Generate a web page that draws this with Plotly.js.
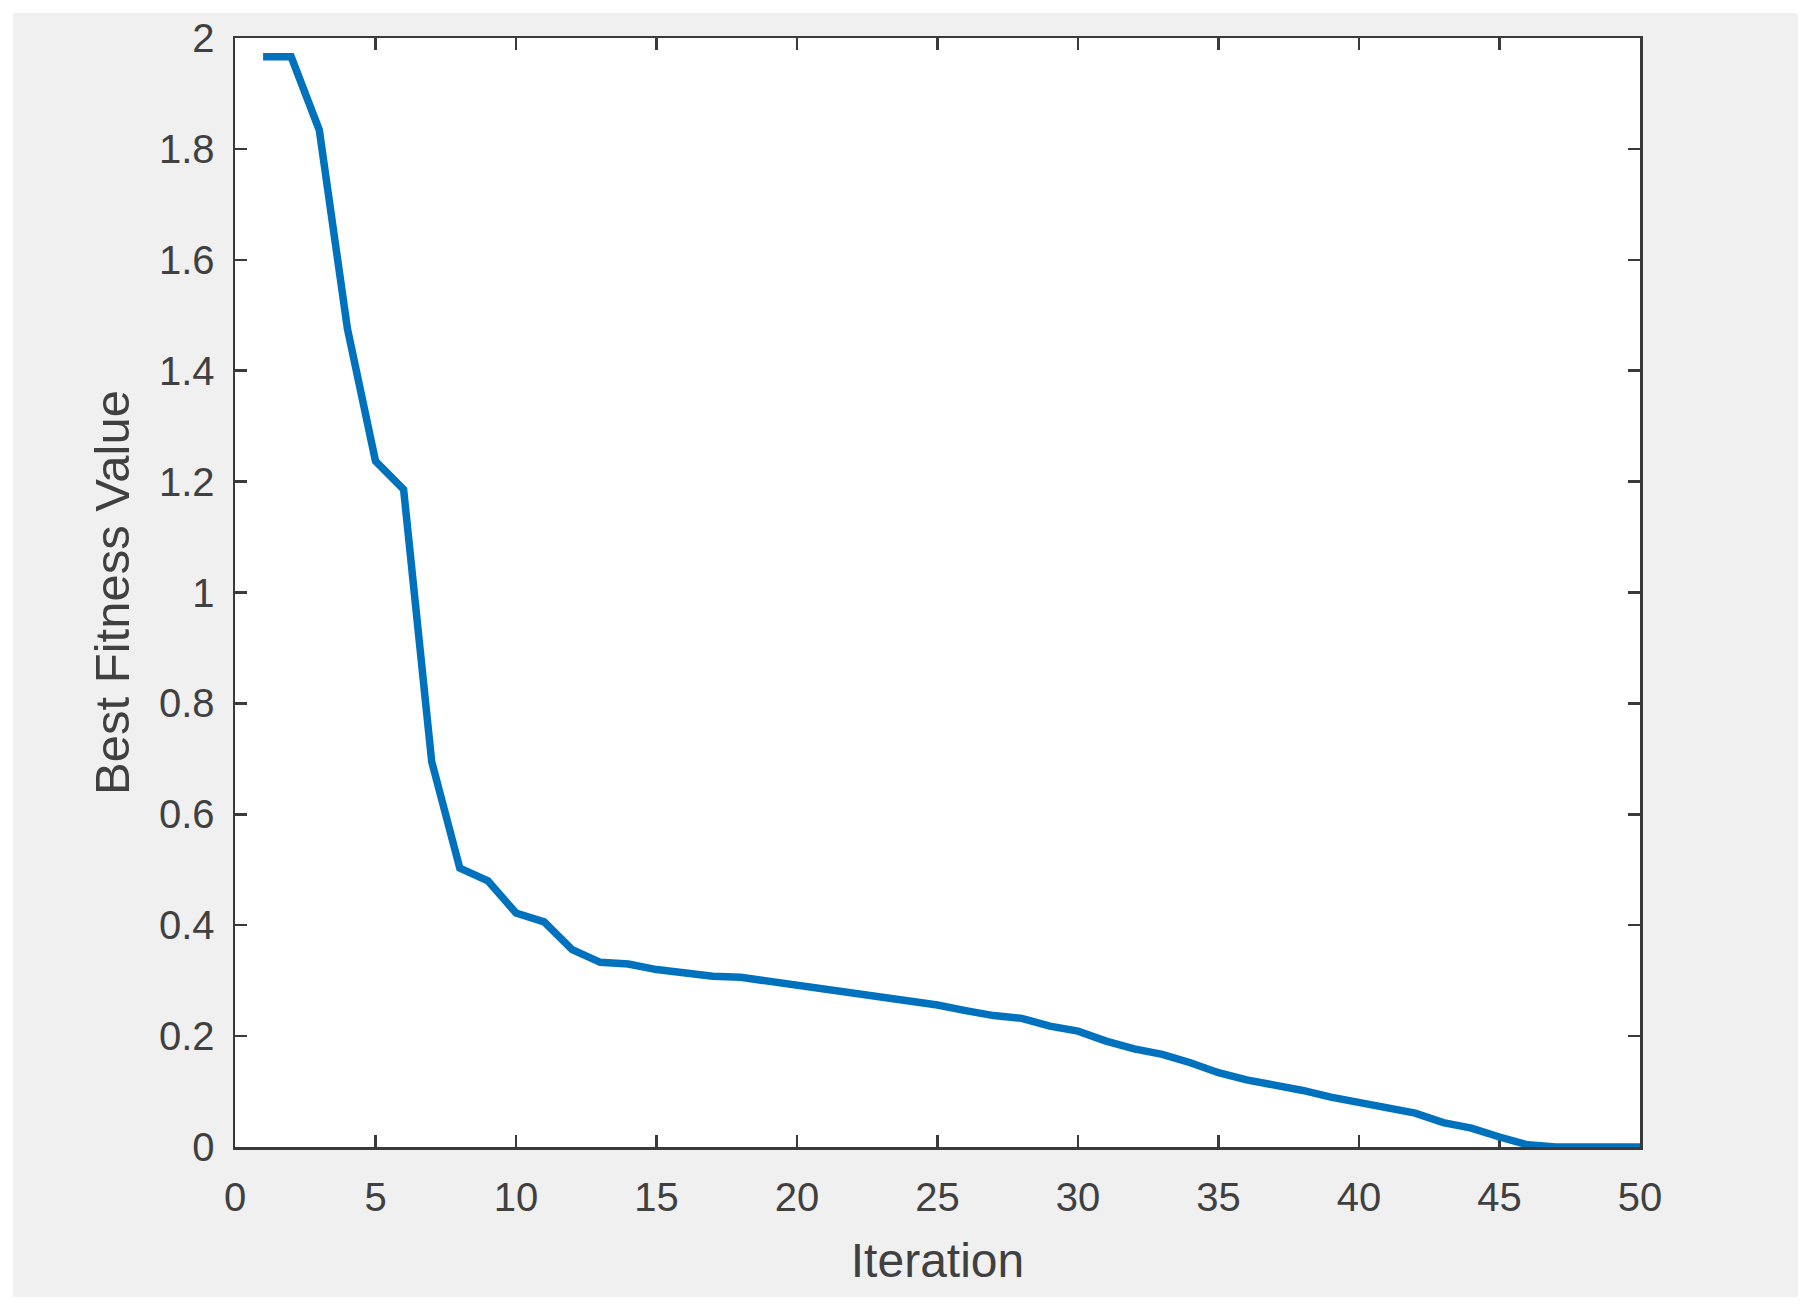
<!DOCTYPE html>
<html>
<head>
<meta charset="utf-8">
<script src="https://cdn.plot.ly/plotly-3.0.1.min.js"></script>
<style>
  body { margin: 0; background: #ffffff; }
  #graph { position: absolute; left: 13px; top: 13px; width: 1785px; height: 1284px; }
</style>
</head>
<body>
<div id="graph"></div>
<script>
// best fitness per iteration
var iteration = [];
for (var i = 1; i <= 50; i++) {
    iteration.push(i);
}

var bestFitness = [
    1.966, 1.966, 1.834, 1.476, 1.237, 1.186, 0.695, 0.503, 0.480, 0.422,
    0.406, 0.356, 0.333, 0.330, 0.320, 0.313, 0.308, 0.306, 0.299, 0.290,
    0.284, 0.275, 0.269, 0.263, 0.256, 0.246, 0.237, 0.232, 0.218, 0.209,
    0.191, 0.177, 0.167, 0.152, 0.134, 0.121, 0.112, 0.102, 0.090, 0.080,
    0.068, 0.061, 0.044, 0.034, 0.018, 0.004, 0.000, 0.000, 0.000, 0.000
];

var xTicks = [0, 5, 10, 15, 20, 25, 30, 35, 40, 45, 50];
var yTicks = [0, 0.2, 0.4, 0.6, 0.8, 1, 1.2, 1.4, 1.6, 1.8, 2];
var yTickText = ["0", "0.2", "0.4", "0.6", "0.8", "1", "1.2", "1.4", "1.6", "1.8", "2"];

function drawGraph() {
    var trace, layout, axisCommon;

    trace = {
        x: iteration,
        y: bestFitness,
        type: 'scatter',
        mode: 'lines',
        line: { color: '#0072BD', width: 7.5 },
        cliponaxis: false,
        hoverinfo: 'x+y'
    };

    // MATLAB-ish boxed axes with inward ticks
    axisCommon = {
        showgrid: false,
        zeroline: false,
        showline: true,
        linecolor: '#3a3a3a',
        linewidth: 2.5,
        mirror: 'ticks',
        ticks: 'inside',
        ticklen: 12,
        tickwidth: 2.5,
        tickcolor: '#3a3a3a',
        tickfont: { family: 'Liberation Sans, Arial, sans-serif', size: 40, color: '#404040' },
        layer: 'below traces',
        fixedrange: true
    };

    layout = {
        width: 1785,
        height: 1284,
        paper_bgcolor: '#f0f0f0',
        plot_bgcolor: '#ffffff',
        showlegend: false,
        margin: { l: 222, r: 158, t: 25, b: 150 },
        xaxis: Object.assign({}, axisCommon, {
            range: [0, 50],
            tickvals: xTicks,
            ticklabelstandoff: 13,
            title: {
                text: 'Iteration',
                font: { family: 'Liberation Sans, Arial, sans-serif', size: 48, color: '#404040' },
                standoff: 26
            }
        }),
        yaxis: Object.assign({}, axisCommon, {
            range: [0, 2],
            tickvals: yTicks,
            ticktext: yTickText,
            ticklabelstandoff: 10,
            title: {
                text: 'Best Fitness Value',
                font: { family: 'Liberation Sans, Arial, sans-serif', size: 49, color: '#404040' },
                standoff: 14
            }
        })
    };

    Plotly.newPlot('graph', [trace], layout, { displayModeBar: false, staticPlot: true });
}

drawGraph();
</script>
</body>
</html>
